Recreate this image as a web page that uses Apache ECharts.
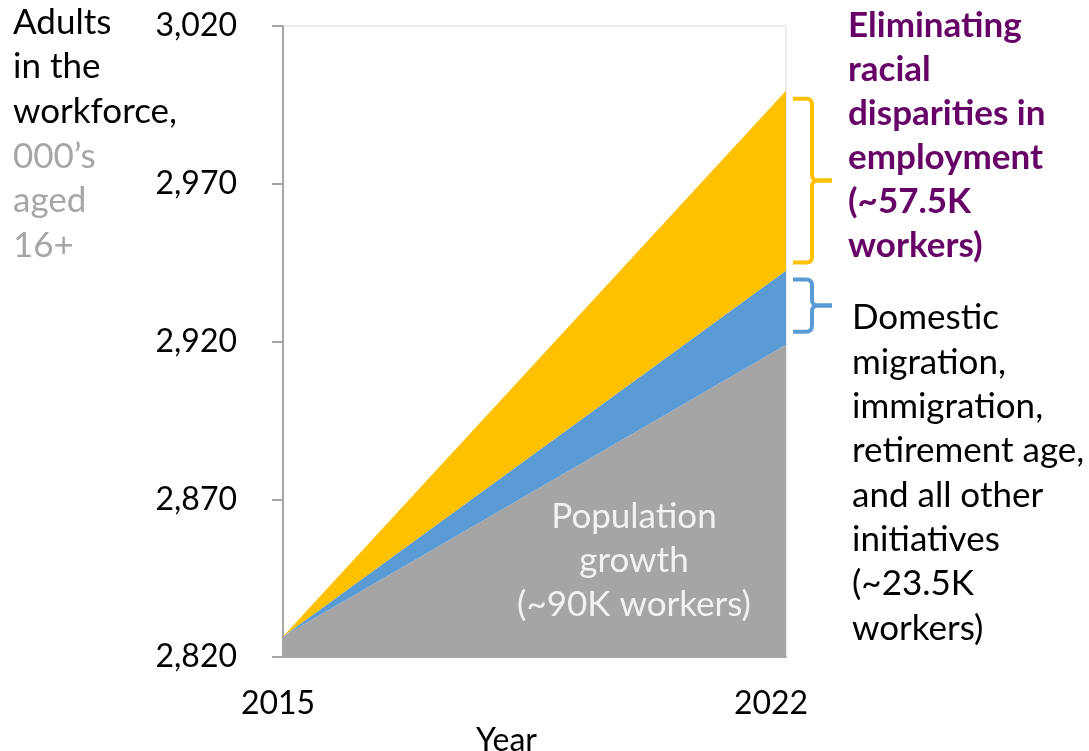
<!DOCTYPE html>
<html>
<head>
<meta charset="utf-8">
<script src="https://cdn.jsdelivr.net/npm/echarts@6/dist/echarts.min.js"></script>
<style>html,body{margin:0;padding:0;background:#fff}#c{width:1089px;height:751px}</style>
</head>
<body>
<div id="c"></div>
<script>
// ---- data ----
const years = ['2015', '2022'];
const populationGrowth = [2826.5, 2919];   // base (gray)
const domesticMigration = [0, 23.5];       // blue increment
const racialDisparities = [0, 57];         // yellow increment
const yTicks = [2820, 2870, 2920, 2970, 3020];

const FONT = 'Lato, "Open Sans", sans-serif';
const chart = echarts.init(document.getElementById('c'), null, {renderer: 'canvas'});

const option = {
  animation: false,
  backgroundColor: '#ffffff',
  grid: {left: 283, right: 303, top: 26, bottom: 94, show: true, borderColor: '#d9d9d9', borderWidth: 1, outerBoundsMode: 'none'},
  xAxis: {
    type: 'category', data: years, boundaryGap: false,
    axisLine: {lineStyle: {color: '#a6a6a6', width: 2}},
    axisTick: {show: false},
    axisLabel: {
      margin: 31, color: '#000', fontFamily: FONT, fontSize: 32,
      formatter: (v, i) => i === 0 ? '{a|' + v + '}' : '{b|' + v + '}',
      rich: {
        a: {fontFamily: FONT, fontSize: 32, color: '#000', padding: [0, 10, 0, 0]},
        b: {fontFamily: FONT, fontSize: 32, color: '#000', padding: [0, 30, 0, 0]}
      }
    },
    name: 'Year', nameLocation: 'middle', nameGap: 67,
    nameTextStyle: {fontFamily: FONT, fontSize: 32, color: '#000', padding: [0, 56, 0, 0]},
    splitLine: {show: false}
  },
  yAxis: {
    type: 'value', min: yTicks[0], max: yTicks[yTicks.length - 1],
    axisLine: {show: true, lineStyle: {color: '#a6a6a6', width: 2}},
    axisTick: {show: true, length: 11, customValues: yTicks, lineStyle: {color: '#a6a6a6', width: 2}},
    axisLabel: {customValues: yTicks, margin: 46, color: '#000', fontFamily: FONT, fontSize: 32,
      formatter: v => Number(v).toLocaleString('en-US')},
    splitLine: {show: false}
  },
  series: [
    {name: 'Population growth', type: 'line', stack: 'total', data: populationGrowth,
      symbol: 'none', lineStyle: {width: 0}, areaStyle: {color: '#a5a5a5', opacity: 1}, z: 2},
    {name: 'Domestic migration', type: 'line', stack: 'total', data: domesticMigration,
      symbol: 'none', lineStyle: {width: 0}, areaStyle: {color: '#5b9bd5', opacity: 1}, z: 2},
    {name: 'Eliminating racial disparities', type: 'line', stack: 'total', data: racialDisparities,
      symbol: 'none', lineStyle: {width: 0}, areaStyle: {color: '#ffc000', opacity: 1}, z: 2}
  ]
};
chart.setOption(option);

// annotations positioned from data
function py(v) { return chart.convertToPixel({gridIndex: 0}, [years[1], v])[1]; }
const last = years.length - 1;
const grayTop = populationGrowth[last];
const blueTop = grayTop + domesticMigration[last];
const yellowTop = blueTop + racialDisparities[last];
const xEnd = chart.convertToPixel({gridIndex: 0}, [years[last], grayTop])[0];

// rounded corner helper: quadratic curve points from p0 via c to p1
function corner(p0, c, p1) {
  const pts = [];
  for (let i = 0; i <= 6; i++) {
    const t = i / 6, u = 1 - t;
    pts.push([u * u * p0[0] + 2 * u * t * c[0] + t * t * p1[0], u * u * p0[1] + 2 * u * t * c[1] + t * t * p1[1]]);
  }
  return pts;
}
function brace(a, b, color) {
  const x0 = xEnd + 7, x1 = xEnd + 26, xt = xEnd + 46, r = 6, m = (a + b) / 2;
  const upper = [[x0, a]].concat(corner([x1 - r, a], [x1, a], [x1, a + r]))
    .concat(corner([x1, m - r], [x1, m], [x1 + r, m])).concat([[xt, m]]);
  const lower = [[xt, m]].concat(corner([x1 + r, m], [x1, m], [x1, m + r]))
    .concat(corner([x1, b - r], [x1, b], [x1 - r, b])).concat([[x0, b]]);
  const st = {stroke: color, lineWidth: 4, fill: null, lineJoin: 'round'};
  return [
    {type: 'polyline', shape: {points: upper}, style: st, z: 10},
    {type: 'polyline', shape: {points: lower}, style: st, z: 10}
  ];
}

chart.setOption({
  graphic: [].concat(
    brace(py(yellowTop) + 8, py(blueTop) - 8, '#ffc000'),
    brace(py(blueTop) + 9, py(grayTop) - 13, '#5b9bd5'),
    [
    {type: 'text', left: 13, top: 5, z: 10, style: {
      text: '{k|Adults}\n{k|in the}\n{k|workforce,}\n{g|000\u2019s}\n{g|aged}\n{g|16+}',
      rich: {k: {fontFamily: FONT, fontSize: 35, fill: '#000', lineHeight: 44.6},
             g: {fontFamily: FONT, fontSize: 35, fill: '#a6a6a6', lineHeight: 44.6}}
    }},
    {type: 'text', left: 848, top: 4, z: 10, style: {
      text: 'Eliminating\nracial\ndisparities in\nemployment\n(~57.5K\nworkers)',
      font: 'bold 35px ' + FONT, fill: '#660066', lineHeight: 44
    }},
    {type: 'text', left: 852, top: 296, z: 10, style: {
      text: 'Domestic\nmigration,\nimmigration,\nretirement age,\nand all other\ninitiatives\n(~23.5K\nworkers)',
      font: '35px ' + FONT, fill: '#000', lineHeight: 44.3
    }},
    {type: 'text', x: 634, y: 495, z: 10, style: {
      text: 'Population\ngrowth\n(~90K workers)',
      font: '35px ' + FONT, fill: '#f2f2f2', lineHeight: 44, align: 'center', verticalAlign: 'top'
    }}
    ]
  )
});
</script>
</body>
</html>
